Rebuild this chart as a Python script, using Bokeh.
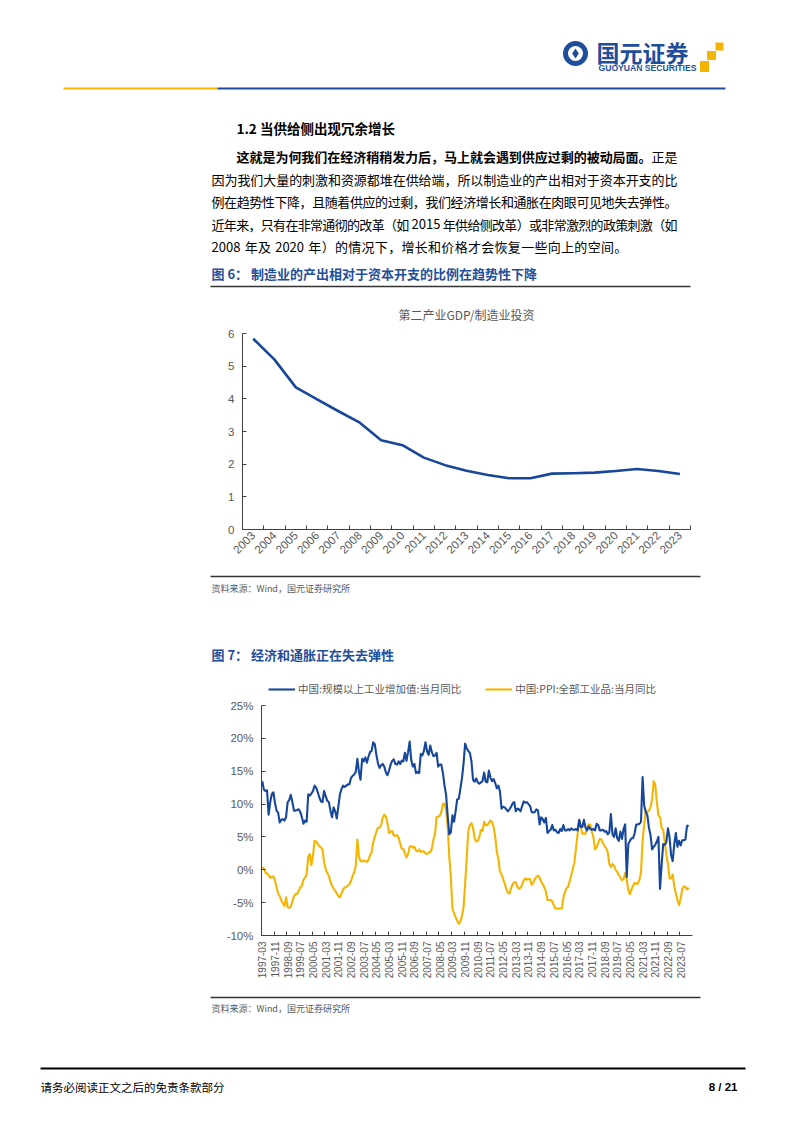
import math
from bokeh.plotting import figure
from bokeh.models import Range1d, FixedTicker, Legend, LegendItem
from bokeh.embed import file_html
from bokeh.resources import INLINE
from bokeh.core.properties import value

# ---------------- data: figure 6 (annual) ----------------
ratio_years = [2003, 2004, 2005, 2006, 2007, 2008, 2009, 2010, 2011, 2012, 2013,
               2014, 2015, 2016, 2017, 2018, 2019, 2020, 2021, 2022, 2023]
gdp_over_capex = [5.84, 5.20, 4.35, 3.98, 3.62, 3.27, 2.73, 2.58, 2.20, 1.97, 1.80,
                  1.67, 1.57, 1.57, 1.71, 1.72, 1.74, 1.79, 1.85, 1.79, 1.70]
ratio_ticks = [0, 1, 2, 3, 4, 5, 6]

# ---------------- data: figure 7 (monthly, Mar-Dec each year) ----------------
series_years = list(range(1997, 2024))
month_codes = ["03", "04", "05", "06", "07", "08", "09", "10", "11", "12"]
ip_yoy = [
    13.5, 12.2, 12.0, 12.1, 8.4, 10.3, 11.5, 11.8, 10.2, 9.0,      # 1997
    8.7, 7.2, 7.6, 7.7, 7.5, 8.0, 10.3, 10.6, 11.4, 10.3,          # 1998
    9.0, 9.0, 9.1, 9.2, 8.8, 8.0, 7.0, 7.5, 7.3, 11.5,             # 1999
    11.3, 11.6, 12.0, 12.8, 12.5, 11.8, 11.0, 10.4, 10.3, 12.0,    # 2000
    11.2, 10.5, 10.3, 9.0, 8.0, 9.5, 8.9, 7.8, 9.6, 11.5,          # 2001
    12.3, 12.8, 12.6, 12.8, 13.0, 13.0, 14.0, 14.3, 14.5, 14.9,    # 2002
    16.9, 14.9, 13.7, 16.9, 16.5, 17.1, 16.3, 17.2, 17.9, 18.1,    # 2003
    19.4, 19.1, 17.5, 16.2, 15.5, 15.9, 16.1, 15.7, 14.8, 14.4,    # 2004
    15.1, 16.0, 16.6, 16.8, 16.1, 16.0, 16.5, 16.1, 16.6, 16.5,    # 2005
    17.8, 16.6, 17.9, 19.5, 16.7, 15.7, 16.1, 14.7, 14.9, 14.7,    # 2006
    17.6, 17.4, 18.1, 19.4, 18.0, 17.5, 18.9, 17.9, 17.3, 17.4,    # 2007
    17.8, 15.7, 16.0, 16.0, 14.7, 12.8, 11.4, 8.2, 5.4, 5.7,       # 2008
    8.3, 7.3, 8.9, 10.7, 10.8, 12.3, 13.9, 16.1, 19.2, 18.5,       # 2009
    18.1, 17.8, 16.5, 13.7, 13.4, 13.9, 13.3, 13.1, 13.3, 13.5,    # 2010
    14.8, 13.4, 13.3, 15.1, 14.0, 13.5, 13.8, 13.2, 12.4, 12.8,    # 2011
    11.9, 9.3, 9.6, 9.5, 9.2, 8.9, 9.2, 9.6, 10.1, 10.3,           # 2012
    8.9, 9.3, 9.2, 8.9, 9.7, 10.4, 10.2, 10.3, 10.0, 9.7,          # 2013
    8.8, 8.7, 8.8, 9.2, 9.0, 6.9, 8.0, 7.7, 7.2, 7.9,              # 2014
    5.6, 5.9, 6.1, 6.8, 6.0, 6.1, 5.7, 5.6, 6.2, 5.9,              # 2015
    6.8, 6.0, 6.0, 6.2, 6.0, 6.3, 6.1, 6.1, 6.2, 6.0,              # 2016
    7.6, 6.5, 6.5, 7.6, 6.4, 6.0, 6.6, 6.2, 6.1, 6.2,              # 2017
    6.0, 7.0, 6.8, 6.0, 6.0, 6.1, 5.8, 5.9, 5.4, 5.7,              # 2018
    8.5, 5.4, 5.0, 6.3, 4.8, 4.4, 5.8, 4.7, 6.2, 6.9,              # 2019
    -1.1, 3.9, 4.4, 4.8, 4.8, 5.6, 6.9, 6.9, 7.0, 7.3,             # 2020
    14.1, 9.8, 8.8, 8.3, 6.4, 5.3, 3.1, 3.5, 3.8, 4.3,             # 2021
    5.0, -2.9, 0.7, 3.9, 3.8, 4.2, 6.3, 5.0, 2.2, 1.3,             # 2022
    3.9, 5.6, 3.5, 4.4, 3.7, 4.5, 4.5, 4.6, 6.6, 6.8,              # 2023
]
ppi_yoy = [
    0.4, 0.2, -0.4, -0.6, -0.8, -1.2, -1.1, -1.0, -1.6, -2.7,      # 1997
    -3.6, -4.0, -4.7, -5.1, -5.5, -4.2, -5.7, -5.8, -5.6, -4.8,    # 1998
    -4.0, -3.7, -3.7, -3.2, -2.7, -2.4, -1.5, -1.2, -0.7, 2.0,     # 1999
    2.4, 0.7, 2.2, 4.4, 4.3, 3.9, 3.6, 3.4, 3.1, 1.2,              # 2000
    0.1, -0.5, -0.9, -1.8, -2.4, -2.9, -3.2, -3.6, -4.0, -4.2,     # 2001
    -3.6, -3.0, -2.7, -2.6, -2.4, -2.2, -1.7, -0.9, -0.4, 0.6,     # 2002
    4.6, 2.0, 1.3, 1.3, 1.4, 1.3, 1.2, 1.5, 2.2, 2.7,              # 2003
    4.2, 5.0, 5.8, 6.4, 6.4, 6.8, 7.9, 8.4, 8.1, 7.1,              # 2004
    5.6, 5.8, 5.9, 5.2, 5.2, 5.3, 4.9, 4.0, 3.2, 3.2,              # 2005
    2.5, 1.9, 2.4, 3.5, 3.6, 3.4, 3.5, 2.9, 2.8, 3.1,              # 2006
    2.7, 2.8, 2.8, 2.5, 2.4, 2.6, 2.7, 3.2, 4.6, 5.4,              # 2007
    8.0, 8.1, 8.2, 8.8, 10.0, 10.1, 9.1, 6.6, 2.0, -1.1,           # 2008
    -6.0, -6.6, -7.2, -7.8, -8.2, -7.9, -7.0, -5.8, -2.1, 1.7,     # 2009
    5.9, 6.8, 7.1, 6.4, 4.8, 4.3, 4.4, 5.0, 6.1, 5.9,              # 2010
    7.3, 6.8, 6.8, 7.1, 7.5, 7.3, 6.5, 5.0, 2.7, 1.7,              # 2011
    -0.3, -0.7, -1.4, -2.1, -2.9, -3.5, -3.6, -2.8, -2.2, -1.9,    # 2012
    -1.9, -2.6, -2.9, -2.7, -2.3, -1.6, -1.3, -1.5, -1.4, -1.4,    # 2013
    -2.3, -2.0, -1.4, -1.1, -0.9, -1.2, -1.8, -2.2, -2.7, -3.3,    # 2014
    -4.6, -4.6, -4.6, -4.8, -5.4, -5.9, -5.9, -5.9, -5.9, -5.9,    # 2015
    -4.3, -3.4, -2.8, -2.6, -1.7, -0.8, 0.1, 1.2, 3.3, 5.5,        # 2016
    7.6, 6.4, 5.5, 5.5, 5.5, 6.3, 6.9, 6.9, 5.8, 4.9,              # 2017
    3.1, 3.4, 4.1, 4.7, 4.6, 4.1, 3.6, 3.3, 2.7, 0.9,              # 2018
    0.4, 0.9, 0.6, 0.0, -0.3, -0.8, -1.2, -1.6, -1.4, -0.5,        # 2019
    -1.5, -3.1, -3.7, -3.0, -2.4, -2.0, -2.1, -2.1, -1.5, -0.4,    # 2020
    4.4, 6.8, 9.0, 8.8, 9.0, 9.5, 10.7, 13.5, 12.9, 10.3,          # 2021
    8.3, 8.0, 6.4, 6.1, 4.2, 2.3, 0.9, -1.3, -1.3, -0.7,           # 2022
    -2.5, -3.6, -4.6, -5.4, -4.4, -3.0, -2.5, -2.6, -3.0, -2.7,    # 2023
]
months = [f"{y}-{m}" for y in series_years for m in month_codes]
pct_ticks = [-10, -5, 0, 5, 10, 15, 20, 25]

ip_label = "中国:规模以上工业增加值:当月同比"
ppi_label = "中国:PPI:全部工业品:当月同比"

# ---------------- styling ----------------
PW = 802
CJK = "Noto Sans CJK SC"
LAT = "Liberation Sans"
BLUE = "#1f4e9c"
LINE_BLUE = "#17479b"
YELLOW = "#f5b400"
GRAY = "#595959"
AXIS = "#404040"


def page_fig(top, bottom):
    p = figure(width=PW, height=bottom - top, x_range=Range1d(0, PW),
               y_range=Range1d(bottom, top), x_axis_type=None, y_axis_type=None,
               output_backend="svg", toolbar_location=None, min_border=0,
               outline_line_color=None)
    p.grid.visible = False
    return p


def txt(p, x, y, s, size, color="#000000", bold=False, align="left", font=CJK):
    p.text(x=[x], y=[y], text=[s], text_font=value(font),
           text_font_size=value(f"{size}px"), text_color=color,
           text_font_style="bold" if bold else "normal",
           text_align=align, text_baseline="middle")


def hline(p, x0, x1, y, color, width):
    p.segment(x0=[x0], y0=[y], x1=[x1], y1=[y], line_color=color, line_width=width)


def tokens_of(s):
    toks, buf = [], ""
    for ch in s:
        if ch.isascii() and ch != " ":
            buf += ch
        else:
            if buf:
                toks.append(buf)
                buf = ""
            toks.append(ch)
    if buf:
        toks.append(buf)
    return toks


def tok_w(t, size):
    if t == " ":
        return 0.28 * size
    if t.isascii():
        return 0.556 * size * len(t)
    return size


def para_line(p, segs, x0, x1, y, size, justify=True):
    toks = [(t, b) for s, b in segs for t in tokens_of(s)]
    widths = [tok_w(t, size) for t, _ in toks]
    gap = ((x1 - x0) - sum(widths)) / (len(toks) - 1) if justify else 0.3
    x = x0
    groups = {True: ([], []), False: ([], [])}
    for (t, b), w in zip(toks, widths):
        if t != " ":
            groups[b][0].append(x)
            groups[b][1].append(t)
        x += w + gap
    for b, (xs_, ts_) in groups.items():
        if ts_:
            p.text(x=xs_, y=[y] * len(xs_), text=ts_, text_font=value(CJK),
                   text_font_size=value(f"{size}px"), text_color="#000000",
                   text_font_style="bold" if b else "normal",
                   text_align="left", text_baseline="middle")


# ---------------- header + text ----------------
pa = page_fig(0, 292)
pa.scatter(x=[575], y=[53], size=25, marker="circle", fill_color=BLUE, line_color=None)
pa.scatter(x=[575], y=[53], size=15, marker="circle", fill_color="white", line_color=None)
pa.scatter(x=[575], y=[53], size=10, marker="diamond", fill_color=BLUE, line_color=None)
txt(pa, 596, 51, "国元证券", 23, BLUE, bold=True)
txt(pa, 598, 67, "GUOYUAN SECURITIES", 8.6, BLUE, bold=True, font=LAT)
pa.rect(x=[719, 711, 704], y=[46, 55, 66], width=[8, 9, 9], height=[8, 9, 11],
        fill_color=YELLOW, line_color=None)
hline(pa, 63, 217, 88, YELLOW, 2.2)
hline(pa, 217, 725, 88, BLUE, 2.2)

txt(pa, 236, 127, "1.2  当供给侧出现冗余增长", 13.5, "#000000", bold=True)
FS = 13
para_line(pa, [("这就是为何我们在经济稍稍发力后，马上就会遇到供应过剩的被动局面。", True),
               ("正是", False)], 236, 690 - FS, 156, FS)
para_line(pa, [("因为我们大量的刺激和资源都堆在供给端，所以制造业的产出相对于资本开支的比", False)],
          211, 690 - FS, 178.5, FS)
para_line(pa, [("例在趋势性下降，且随着供应的过剩，我们经济增长和通胀在肉眼可见地失去弹性。", False)],
          211, 690 - FS, 201, FS)
para_line(pa, [("近年来，只有在非常通彻的改革（如 2015 年供给侧改革）或非常激烈的政策刺激（如", False)],
          211, 690 - FS, 223.5, FS)
para_line(pa, [("2008 年及 2020 年）的情况下，增长和价格才会恢复一些向上的空间。", False)],
          211, 690, 246, FS, justify=False)
txt(pa, 211, 273, "图 6：  制造业的产出相对于资本开支的比例在趋势性下降", 13, BLUE, bold=True)
hline(pa, 210, 690, 286, "#333333", 1.6)

# ---------------- chart 1 ----------------
p1 = figure(width=PW, height=276, x_range=Range1d(-0.5, len(ratio_years) - 0.5),
            y_range=Range1d(0, 6), output_backend="svg", toolbar_location=None,
            min_border_left=242, min_border_right=112, min_border_top=39,
            min_border_bottom=39, outline_line_color=None)
p1.grid.visible = False
p1.line(x=list(range(len(ratio_years))), y=gdp_over_capex, line_color=LINE_BLUE,
        line_width=2.6, line_join="round")
p1.title.text = "第二产业GDP/制造业投资"
p1.title.align = "center"
p1.title.text_font = CJK
p1.title.text_font_size = "12px"
p1.title.text_font_style = "normal"
p1.title.text_color = GRAY
p1.title.standoff = 22

xa = p1.xaxis[0]
xa.ticker = FixedTicker(ticks=list(range(len(ratio_years))),
                        minor_ticks=[k - 0.5 for k in range(len(ratio_years) + 1)])
xa.major_label_overrides = {i: str(y) for i, y in enumerate(ratio_years)}
xa.major_label_orientation = math.pi / 4
ya = p1.yaxis[0]
ya.ticker = FixedTicker(ticks=ratio_ticks)
for ax in (xa, ya):
    ax.axis_line_color = AXIS
    ax.major_tick_out = 0
    ax.major_tick_in = 4
    ax.minor_tick_out = 0
    ax.minor_tick_in = 0
    ax.major_tick_line_color = AXIS
    ax.minor_tick_line_color = AXIS
    ax.major_label_text_font = LAT
    ax.major_label_text_font_size = "11.5px"
    ax.major_label_text_color = GRAY
    ax.major_label_standoff = 6
xa.major_tick_in = 0
xa.minor_tick_in = 4
xa.major_label_standoff = 4
ya.major_label_standoff = 8

# ---------------- between charts ----------------
pb = page_fig(568, 670)
hline(pb, 210, 700, 576, "#333333", 1.6)
txt(pb, 211, 588, "资料来源：Wind，国元证券研究所", 9, GRAY)
txt(pb, 211, 654, "图 7：  经济和通胀正在失去弹性", 13, BLUE, bold=True)

# ---------------- chart 2 ----------------
# frame extends a little above the 25% line so the legend sits inside it;
# the y axis itself is bounded to the -10%..25% scale.
n = len(months)
FRAME_H2 = 259
y_top = 25 + (FRAME_H2 - 230) * 35 / 230
p2 = figure(width=PW, height=320, x_range=Range1d(-0.5, n + 1.5),
            y_range=Range1d(-10, y_top), output_backend="svg", toolbar_location=None,
            min_border_left=261, min_border_right=110, min_border_top=6,
            min_border_bottom=55, outline_line_color=None)
p2.grid.visible = False
xs = list(range(n))
r_ip = p2.line(x=xs, y=ip_yoy, line_color=LINE_BLUE, line_width=2.1, line_join="round")
r_ppi = p2.line(x=xs, y=ppi_yoy, line_color=YELLOW, line_width=2.1, line_join="round")
p2.renderers = [r_ppi, r_ip]

legend = Legend(items=[LegendItem(label=ip_label, renderers=[r_ip]),
                       LegendItem(label=ppi_label, renderers=[r_ppi])],
                orientation="horizontal", location=(7, 239),
                label_text_font=CJK, label_text_font_size="10.5px",
                label_text_color=GRAY, glyph_width=27, glyph_height=10,
                label_standoff=3, spacing=24, padding=0, margin=0,
                border_line_color=None, background_fill_alpha=0)
p2.add_layout(legend, "center")

xb = p2.xaxis[0]
lab_idx = list(range(0, n, 8))
xb.ticker = FixedTicker(ticks=lab_idx, minor_ticks=[k - 0.5 for k in range(0, n + 2, 8)])
xb.major_label_overrides = {i: months[i] for i in lab_idx}
xb.major_label_orientation = math.pi / 2
yb = p2.yaxis[0]
yb.ticker = FixedTicker(ticks=pct_ticks)
yb.major_label_overrides = {t: f"{t}%" for t in pct_ticks}
yb.bounds = (-10, 25)
for ax in (xb, yb):
    ax.axis_line_color = AXIS
    ax.major_tick_out = 0
    ax.major_tick_in = 4
    ax.minor_tick_out = 0
    ax.minor_tick_in = 0
    ax.major_tick_line_color = AXIS
    ax.minor_tick_line_color = AXIS
    ax.major_label_text_font = LAT
    ax.major_label_text_color = GRAY
xb.major_tick_in = 0
xb.minor_tick_in = 4
xb.major_label_text_font_size = "10px"
xb.major_label_standoff = 6
yb.major_label_text_font_size = "11.5px"
yb.major_label_standoff = 8

# ---------------- footer ----------------
pc = page_fig(990, 1133)
hline(pc, 210, 700, 997, "#333333", 1.6)
txt(pc, 211, 1008, "资料来源：Wind，国元证券研究所", 9, GRAY)
hline(pc, 40, 745, 1068, "#000000", 2.2)
txt(pc, 40, 1086, "请务必阅读正文之后的免责条款部分", 11.5, "#000000")
txt(pc, 737, 1086, "8 / 21", 11.5, "#000000", bold=True, align="right", font=LAT)

# separate roots, stacked in page order (no frame alignment between them)
open("out.html", "w").write(file_html([pa, p1, pb, p2, pc], INLINE))
